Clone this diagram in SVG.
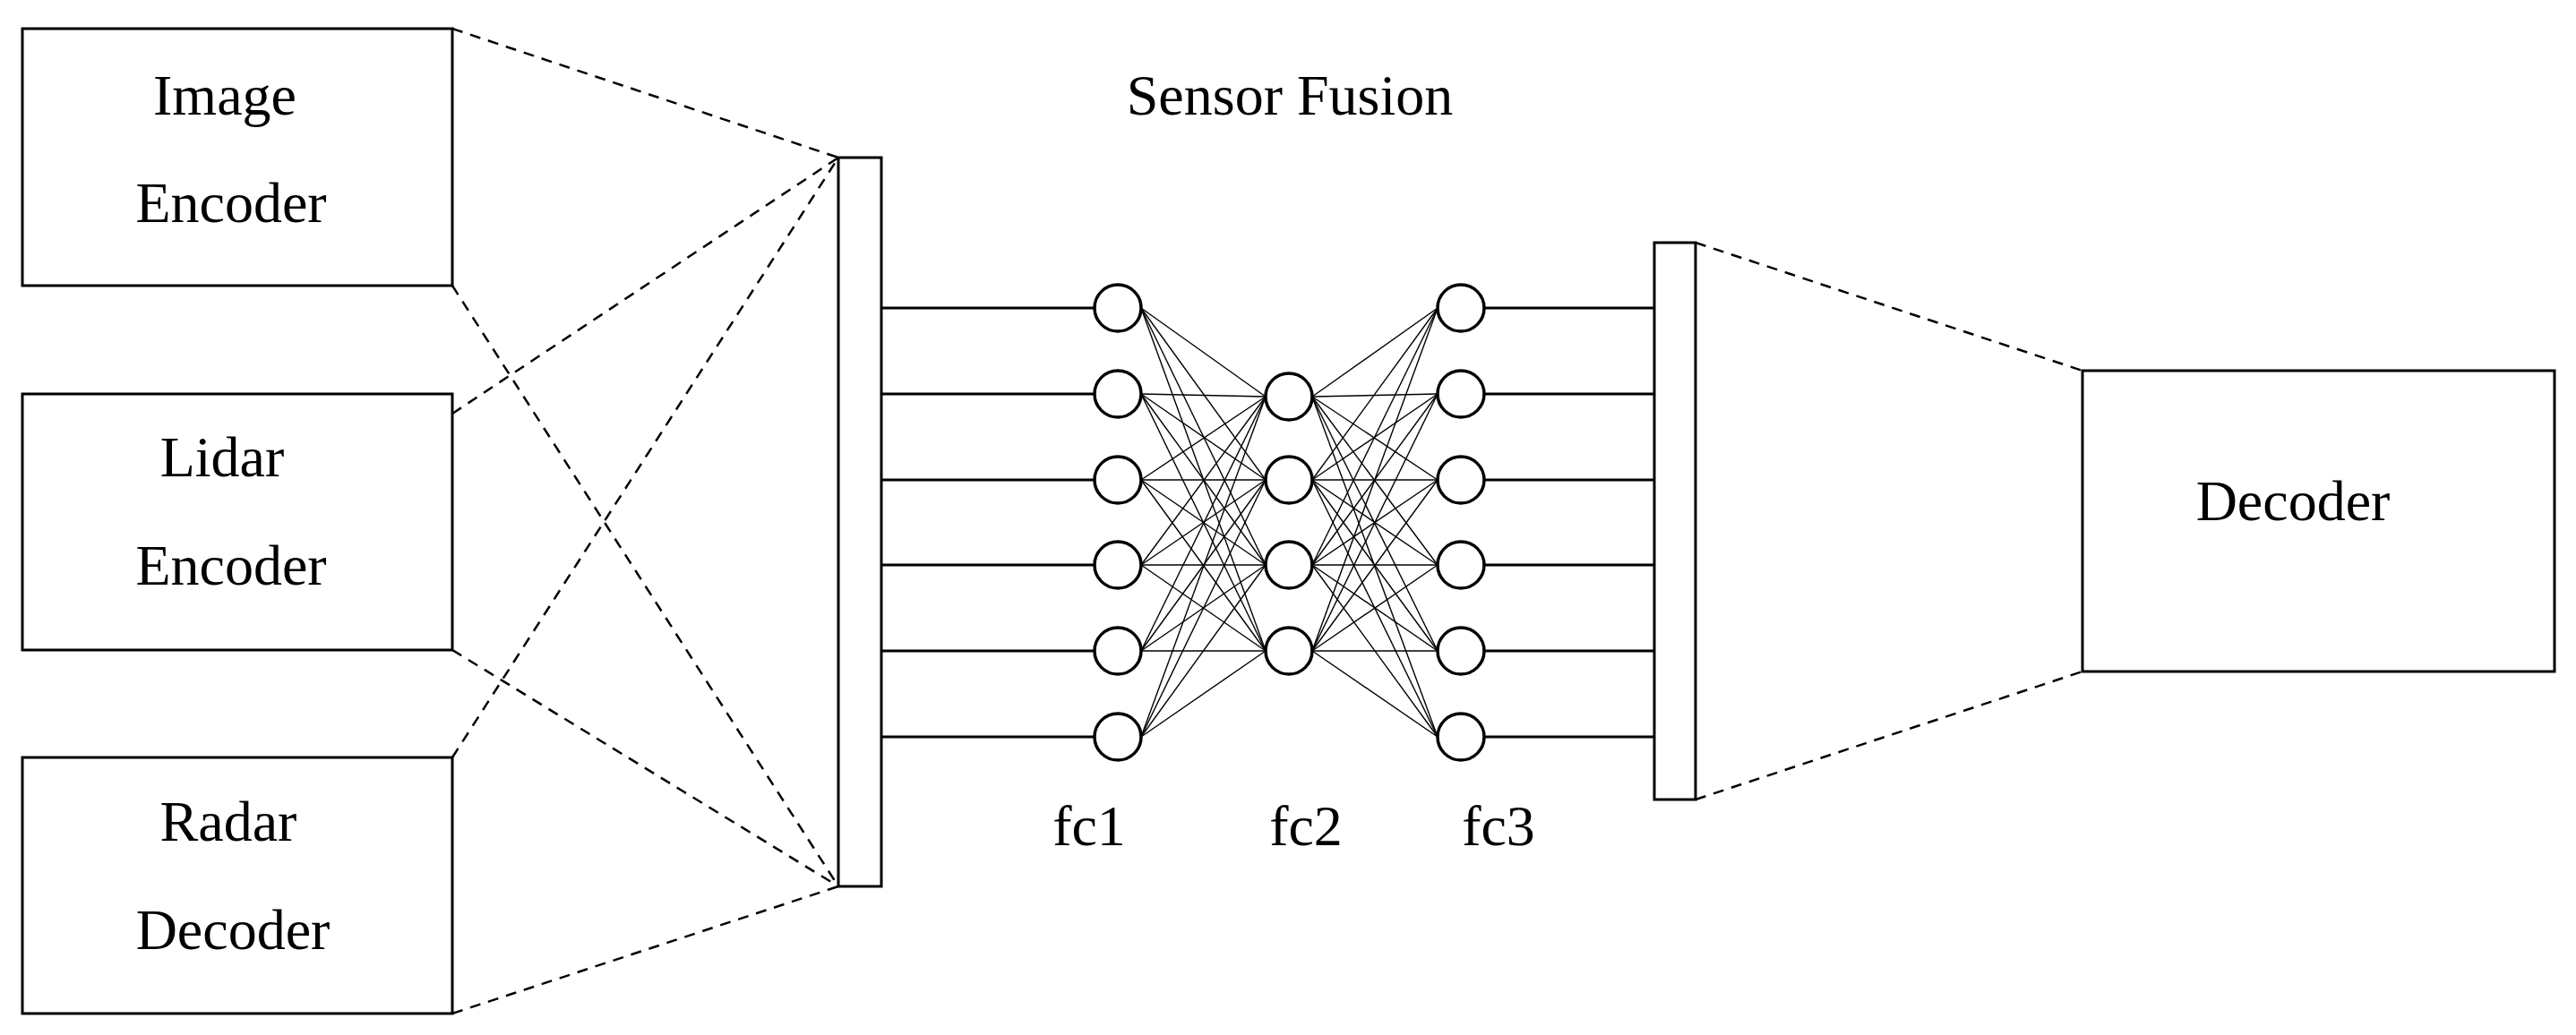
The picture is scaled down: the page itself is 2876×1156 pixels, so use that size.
<svg xmlns="http://www.w3.org/2000/svg" width="2876" height="1156" viewBox="0 0 2876 1156">
<style>
.box{fill:#fff;stroke:#000;stroke-width:3}
.d{stroke:#000;stroke-width:2.5;stroke-dasharray:12 9;fill:none}
.h{stroke:#000;stroke-width:3}
.c{stroke:#000;stroke-width:1.4}
.n{fill:#fff;stroke:#000;stroke-width:3.5}
text{font-family:"Liberation Serif",serif;font-size:64px;text-anchor:middle;fill:#000}
</style>
<rect width="2876" height="1156" fill="#fff"/>
<g id="connectors">
<line class="d" x1="505" y1="32" x2="936" y2="176"/>
<line class="d" x1="505" y1="319" x2="936" y2="990"/>
<line class="d" x1="505" y1="462" x2="936" y2="176"/>
<line class="d" x1="505" y1="726" x2="936" y2="990"/>
<line class="d" x1="505" y1="846" x2="936" y2="176"/>
<line class="d" x1="505" y1="1132" x2="936" y2="990"/>
<line class="d" x1="1893" y1="271" x2="2325" y2="414"/>
<line class="d" x1="1893" y1="893" x2="2325" y2="750"/>
<g id="h-lines">
<line class="h" x1="984" y1="344" x2="1222" y2="344"/><line class="h" x1="984" y1="440" x2="1222" y2="440"/>
<line class="h" x1="984" y1="536" x2="1222" y2="536"/><line class="h" x1="984" y1="631" x2="1222" y2="631"/>
<line class="h" x1="984" y1="727" x2="1222" y2="727"/><line class="h" x1="984" y1="823" x2="1222" y2="823"/>
<line class="h" x1="1657" y1="344" x2="1847" y2="344"/><line class="h" x1="1657" y1="440" x2="1847" y2="440"/>
<line class="h" x1="1657" y1="536" x2="1847" y2="536"/><line class="h" x1="1657" y1="631" x2="1847" y2="631"/>
<line class="h" x1="1657" y1="727" x2="1847" y2="727"/><line class="h" x1="1657" y1="823" x2="1847" y2="823"/>
</g>
<g id="fc1-fc2">
<line class="c" x1="1274" y1="344" x2="1413" y2="443"/><line class="c" x1="1274" y1="344" x2="1413" y2="536"/><line class="c" x1="1274" y1="344" x2="1413" y2="631"/><line class="c" x1="1274" y1="344" x2="1413" y2="727"/>
<line class="c" x1="1274" y1="440" x2="1413" y2="443"/><line class="c" x1="1274" y1="440" x2="1413" y2="536"/><line class="c" x1="1274" y1="440" x2="1413" y2="631"/><line class="c" x1="1274" y1="440" x2="1413" y2="727"/>
<line class="c" x1="1274" y1="536" x2="1413" y2="443"/><line class="c" x1="1274" y1="536" x2="1413" y2="536"/><line class="c" x1="1274" y1="536" x2="1413" y2="631"/><line class="c" x1="1274" y1="536" x2="1413" y2="727"/>
<line class="c" x1="1274" y1="631" x2="1413" y2="443"/><line class="c" x1="1274" y1="631" x2="1413" y2="536"/><line class="c" x1="1274" y1="631" x2="1413" y2="631"/><line class="c" x1="1274" y1="631" x2="1413" y2="727"/>
<line class="c" x1="1274" y1="727" x2="1413" y2="443"/><line class="c" x1="1274" y1="727" x2="1413" y2="536"/><line class="c" x1="1274" y1="727" x2="1413" y2="631"/><line class="c" x1="1274" y1="727" x2="1413" y2="727"/>
<line class="c" x1="1274" y1="823" x2="1413" y2="443"/><line class="c" x1="1274" y1="823" x2="1413" y2="536"/><line class="c" x1="1274" y1="823" x2="1413" y2="631"/><line class="c" x1="1274" y1="823" x2="1413" y2="727"/>
</g>
<g id="fc2-fc3">
<line class="c" x1="1465" y1="443" x2="1605" y2="344"/><line class="c" x1="1465" y1="443" x2="1605" y2="440"/><line class="c" x1="1465" y1="443" x2="1605" y2="536"/><line class="c" x1="1465" y1="443" x2="1605" y2="631"/><line class="c" x1="1465" y1="443" x2="1605" y2="727"/><line class="c" x1="1465" y1="443" x2="1605" y2="823"/>
<line class="c" x1="1465" y1="536" x2="1605" y2="344"/><line class="c" x1="1465" y1="536" x2="1605" y2="440"/><line class="c" x1="1465" y1="536" x2="1605" y2="536"/><line class="c" x1="1465" y1="536" x2="1605" y2="631"/><line class="c" x1="1465" y1="536" x2="1605" y2="727"/><line class="c" x1="1465" y1="536" x2="1605" y2="823"/>
<line class="c" x1="1465" y1="631" x2="1605" y2="344"/><line class="c" x1="1465" y1="631" x2="1605" y2="440"/><line class="c" x1="1465" y1="631" x2="1605" y2="536"/><line class="c" x1="1465" y1="631" x2="1605" y2="631"/><line class="c" x1="1465" y1="631" x2="1605" y2="727"/><line class="c" x1="1465" y1="631" x2="1605" y2="823"/>
<line class="c" x1="1465" y1="727" x2="1605" y2="344"/><line class="c" x1="1465" y1="727" x2="1605" y2="440"/><line class="c" x1="1465" y1="727" x2="1605" y2="536"/><line class="c" x1="1465" y1="727" x2="1605" y2="631"/><line class="c" x1="1465" y1="727" x2="1605" y2="727"/><line class="c" x1="1465" y1="727" x2="1605" y2="823"/>
</g>
</g>
<g id="image-encoder"><rect class="box" x="25" y="32" width="480" height="287"/><text x="251" y="128">Image</text><text x="258" y="248">Encoder</text></g>
<g id="lidar-encoder"><rect class="box" x="25" y="440" width="480" height="286"/><text x="248" y="532">Lidar</text><text x="258" y="653">Encoder</text></g>
<g id="radar-decoder"><rect class="box" x="25" y="846" width="480" height="286"/><text x="255" y="939">Radar</text><text x="260" y="1060">Decoder</text></g>
<g id="fusion-bar"><rect class="box" x="936" y="176" width="48" height="814"/></g>
<g id="output-bar"><rect class="box" x="1847" y="271" width="46" height="622"/></g>
<g id="decoder"><rect class="box" x="2325" y="414" width="527" height="336"/><text x="2560" y="581">Decoder</text></g>
<g id="fc1">
<circle class="n" cx="1248" cy="344" r="26"/><circle class="n" cx="1248" cy="440" r="26"/><circle class="n" cx="1248" cy="536" r="26"/>
<circle class="n" cx="1248" cy="631" r="26"/><circle class="n" cx="1248" cy="727" r="26"/><circle class="n" cx="1248" cy="823" r="26"/>
<text x="1216" y="944">fc1</text></g>
<g id="fc2">
<circle class="n" cx="1439" cy="443" r="26"/><circle class="n" cx="1439" cy="536" r="26"/><circle class="n" cx="1439" cy="631" r="26"/><circle class="n" cx="1439" cy="727" r="26"/>
<text x="1458" y="944">fc2</text></g>
<g id="fc3">
<circle class="n" cx="1631" cy="344" r="26"/><circle class="n" cx="1631" cy="440" r="26"/><circle class="n" cx="1631" cy="536" r="26"/>
<circle class="n" cx="1631" cy="631" r="26"/><circle class="n" cx="1631" cy="727" r="26"/><circle class="n" cx="1631" cy="823" r="26"/>
<text x="1673" y="944">fc3</text></g>
<g id="title"><text x="1440" y="128">Sensor Fusion</text></g>
</svg>
